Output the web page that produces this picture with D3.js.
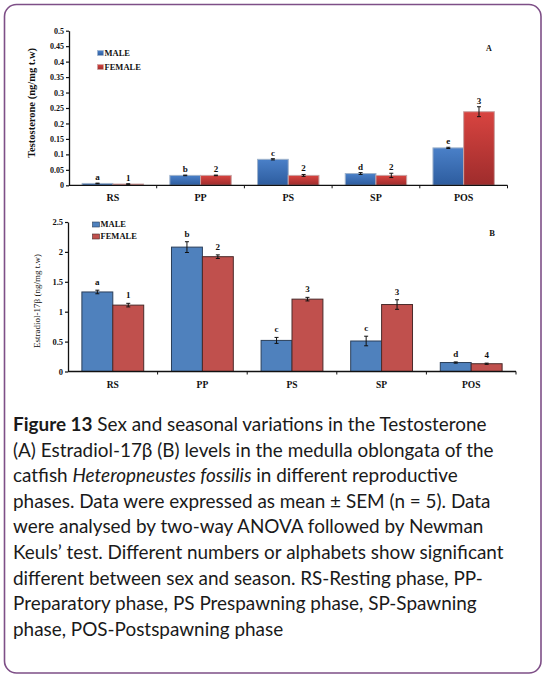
<!DOCTYPE html>
<html>
<head>
<meta charset="utf-8">
<script src="https://cdn.jsdelivr.net/npm/d3@7"></script>
<style>
  html, body { margin: 0; padding: 0; background: #fff; }
  svg { display: block; }
</style>
</head>
<body>
<svg id="chart" width="546" height="681"></svg>
<script>
// ---------- DATA ----------
const categories = ["RS", "PP", "PS", "SP", "POS"];
const seriesNames = ["MALE", "FEMALE"];

// Panel A: Testosterone (ng/mg t.w)
const testoMale      = [0.006, 0.032, 0.084, 0.038, 0.121];
const testoFemale    = [0.004, 0.032, 0.032, 0.032, 0.238];
const testoMaleErr   = [0.001, 0.001, 0.002, 0.003, 0.002];
const testoFemaleErr = [0.001, 0.001, 0.003, 0.007, 0.016];
const testoMaleSig   = ["a", "b", "c", "d", "e"];
const testoFemaleSig = ["1", "2", "2", "2", "3"];
const testoTicks     = [0, 0.05, 0.1, 0.15, 0.2, 0.25, 0.3, 0.35, 0.4, 0.45, 0.5];
const testoTickLabels = ["0", "0.05", "0.1", "0.15", "0.2", "0.25", "0.3", "0.35", "0.4", "0.45", "0.5"];

// Panel B: Estradiol-17β (ng/mg t.w)
const estraMale      = [1.33, 2.08, 0.52, 0.51, 0.15];
const estraFemale    = [1.11, 1.92, 1.21, 1.12, 0.13];
const estraMaleErr   = [0.03, 0.09, 0.05, 0.08, 0.01];
const estraFemaleErr = [0.03, 0.03, 0.03, 0.08, 0.01];
const estraMaleSig   = ["a", "b", "c", "c", "d"];
const estraFemaleSig = ["1", "2", "3", "3", "4"];
const estraTicks     = [0, 0.5, 1, 1.5, 2, 2.5];
const estraTickLabels = ["0", "0.5", "1", "1.5", "2", "2.5"];

const captionLines = [
  [["Figure 13", "b"], [" Sex and seasonal variations in the Testosterone", ""]],
  [["(A) Estradiol-17β (B) levels in the medulla oblongata of the", ""]],
  [["catfish ", ""], ["Heteropneustes fossilis", "i"], [" in different reproductive", ""]],
  [["phases. Data were expressed as mean ± SEM (n = 5). Data", ""]],
  [["were analysed by two-way ANOVA followed by Newman", ""]],
  [["Keuls’ test. Different numbers or alphabets show significant", ""]],
  [["different between sex and season. RS-Resting phase, PP-", ""]],
  [["Preparatory phase, PS Prespawning phase, SP-Spawning", ""]],
  [["phase, POS-Postspawning phase", ""]]
];

// ---------- DRAW ----------
const svg = d3.select("#chart");
const SERIF = "'Liberation Serif', 'Times New Roman', serif";

// frame
svg.append("rect")
  .attr("x", 4.5).attr("y", 4.5).attr("width", 536.5).attr("height", 668.5)
  .attr("rx", 12).attr("ry", 12)
  .attr("fill", "#fff").attr("stroke", "#7e4f87").attr("stroke-width", 1.6);

const defs = svg.append("defs");
function grad(id, top, bottom) {
  const g = defs.append("linearGradient").attr("id", id)
    .attr("x1", 0).attr("y1", 0).attr("x2", 0).attr("y2", 1);
  g.append("stop").attr("offset", "0%").attr("stop-color", top);
  g.append("stop").attr("offset", "100%").attr("stop-color", bottom);
}
grad("gMale", "#4a80c8", "#2d5c9e");
grad("gFemale", "#d84440", "#9e2c2c");

function panel(cfg) {
  const g = svg.append("g");
  const x0 = d3.scaleBand().domain(categories).range([cfg.left, cfg.right])
    .paddingInner(cfg.pad).paddingOuter(cfg.pad / 2);
  const x1 = d3.scaleBand().domain(seriesNames).range([0, x0.bandwidth()]);
  const y = d3.scaleLinear().domain([0, cfg.ticks[cfg.ticks.length - 1]]).range([cfg.bottom, cfg.top]);

  // bars
  const series = [
    { name: "MALE", vals: cfg.male, errs: cfg.maleErr, sig: cfg.maleSig, fill: cfg.maleFill, stroke: cfg.maleStroke },
    { name: "FEMALE", vals: cfg.female, errs: cfg.femaleErr, sig: cfg.femaleSig, fill: cfg.femaleFill, stroke: cfg.femaleStroke }
  ];
  series.forEach(s => {
    const recs = categories.map((c, i) => ({ c, v: s.vals[i], e: s.errs[i], t: s.sig[i] }));
    g.selectAll(null).data(recs).enter().append("rect")
      .attr("x", d => x0(d.c) + x1(s.name))
      .attr("y", d => y(d.v))
      .attr("width", x1.bandwidth())
      .attr("height", d => y(0) - y(d.v))
      .attr("fill", s.fill).attr("stroke", s.stroke).attr("stroke-width", 1);
    // error bars
    const eg = g.selectAll(null).data(recs).enter().append("g")
      .attr("stroke", "#111").attr("stroke-width", 1);
    const cx = d => x0(d.c) + x1(s.name) + x1.bandwidth() / 2;
    eg.append("line").attr("x1", cx).attr("x2", cx)
      .attr("y1", d => y(d.v + d.e)).attr("y2", d => y(d.v - d.e));
    eg.append("line").attr("x1", d => cx(d) - 2).attr("x2", d => cx(d) + 2)
      .attr("y1", d => y(d.v + d.e)).attr("y2", d => y(d.v + d.e));
    eg.append("line").attr("x1", d => cx(d) - 2).attr("x2", d => cx(d) + 2)
      .attr("y1", d => y(d.v - d.e)).attr("y2", d => y(d.v - d.e));
    // significance letters
    g.selectAll(null).data(recs).enter().append("text")
      .attr("x", cx)
      .attr("y", d => y(d.v + d.e) - cfg.sigGap)
      .attr("text-anchor", "middle")
      .attr("font-family", SERIF).attr("font-weight", "bold")
      .attr("font-size", cfg.sigSize).attr("fill", "#111")
      .text(d => d.t);
  });

  // y axis
  const ya = g.append("g").attr("transform", `translate(${cfg.left},0)`)
    .call(d3.axisLeft(y).tickValues(cfg.ticks).tickSize(3).tickSizeOuter(0)
      .tickFormat((d, i) => cfg.tickLabels[i]));
  ya.select(".domain").attr("stroke", "#111").attr("stroke-width", 1.3);
  ya.selectAll(".tick line").attr("stroke", "#111").attr("stroke-width", 1.2);
  ya.selectAll(".tick text").attr("font-family", SERIF).attr("font-weight", "bold")
    .attr("font-size", cfg.tickSize).attr("fill", "#111").attr("x", -5);

  // x axis: line + boundary ticks
  g.append("line").attr("x1", cfg.left).attr("x2", cfg.right)
    .attr("y1", cfg.bottom).attr("y2", cfg.bottom)
    .attr("stroke", "#111").attr("stroke-width", 1.3);
  const step = x0.step();
  const bounds = categories.map((c, i) => x0(c) - x0.paddingOuter() * step + step).concat([]);
  g.selectAll(null).data(categories).enter().append("line")
    .attr("x1", d => x0(d) - (x0.step() - x0.bandwidth()) / 2 + x0.step())
    .attr("x2", d => x0(d) - (x0.step() - x0.bandwidth()) / 2 + x0.step())
    .attr("y1", cfg.bottom).attr("y2", cfg.bottom + 3)
    .attr("stroke", "#111").attr("stroke-width", 1);
  g.selectAll(null).data(categories).enter().append("text")
    .attr("x", d => x0(d) + x0.bandwidth() / 2)
    .attr("y", cfg.bottom + cfg.catGap)
    .attr("text-anchor", "middle")
    .attr("font-family", SERIF).attr("font-weight", "bold")
    .attr("font-size", cfg.catSize).attr("fill", "#111")
    .text(d => d);

  // y label
  g.append("text")
    .attr("transform", `translate(${cfg.ylabX},${cfg.ylabY}) rotate(-90)`)
    .attr("text-anchor", "middle")
    .attr("font-family", SERIF).attr("font-weight", cfg.ylabWeight)
    .attr("font-size", cfg.ylabSize).attr("fill", "#111")
    .text(cfg.ylabel);

  // legend
  series.forEach((s, i) => {
    g.append("rect").attr("x", cfg.legX).attr("y", cfg.legY + i * cfg.legStep - cfg.legH)
      .attr("width", cfg.legW).attr("height", cfg.legH)
      .attr("fill", s.fill).attr("stroke", s.stroke).attr("stroke-width", 0.6);
    g.append("text").attr("x", cfg.legX + cfg.legW + 1).attr("y", cfg.legY + i * cfg.legStep)
      .attr("font-family", SERIF).attr("font-weight", "bold")
      .attr("font-size", cfg.legSize).attr("fill", "#111")
      .text(s.name);
  });

  // panel letter
  g.append("text").attr("x", cfg.tagX).attr("y", cfg.tagY)
    .attr("text-anchor", "middle")
    .attr("font-family", SERIF).attr("font-weight", "bold")
    .attr("font-size", cfg.tagSize).attr("fill", "#111")
    .text(cfg.tag);
}

panel({
  left: 69, right: 507.5, top: 30.7, bottom: 185.3, pad: 0.3,
  ticks: testoTicks, tickLabels: testoTickLabels, tickSize: 8,
  male: testoMale, female: testoFemale, maleErr: testoMaleErr, femaleErr: testoFemaleErr,
  maleSig: testoMaleSig, femaleSig: testoFemaleSig, sigGap: 3, sigSize: 9,
  maleFill: "url(#gMale)", femaleFill: "url(#gFemale)",
  maleStroke: "#9fb3cc", femaleStroke: "#c9a3a3",
  catGap: 15.5, catSize: 10,
  ylabel: "Testosterone  (ng/mg t.w)", ylabX: 35, ylabY: 103, ylabSize: 10.5, ylabWeight: "bold",
  legX: 97.5, legY: 55.5, legStep: 14, legW: 6, legH: 5, legSize: 8.5,
  tag: "A", tagX: 489, tagY: 51, tagSize: 8
});

panel({
  left: 68, right: 516, top: 222, bottom: 371.5, pad: 0.31,
  ticks: estraTicks, tickLabels: estraTickLabels, tickSize: 8.5,
  male: estraMale, female: estraFemale, maleErr: estraMaleErr, femaleErr: estraFemaleErr,
  maleSig: estraMaleSig, femaleSig: estraFemaleSig, sigGap: 5, sigSize: 9,
  maleFill: "#4f81bd", femaleFill: "#c0504d",
  maleStroke: "#2b3f5a", femaleStroke: "#4a2a2a",
  catGap: 16, catSize: 9.5,
  ylabel: "Estradiol-17β (ng/mg t.w)", ylabX: 40, ylabY: 301, ylabSize: 9, ylabWeight: "normal",
  legX: 92.5, legY: 227, legStep: 12, legW: 7, legH: 5, legSize: 8.5,
  tag: "B", tagX: 492, tagY: 235.5, tagSize: 8.5
});

// caption
const CAP = "Lato, 'Open Sans', sans-serif";
const cap = svg.append("g");
let fs = 17;
const lines = captionLines.map((parts, i) => {
  const t = cap.append("text").attr("x", 13).attr("y", 431 + i * 25.6)
    .attr("font-family", CAP).attr("font-size", fs).attr("fill", "#1a1a1a");
  parts.forEach(p => {
    t.append("tspan")
      .attr("font-weight", p[1] === "b" ? "bold" : "normal")
      .attr("font-style", p[1] === "i" ? "italic" : "normal")
      .text(p[0]);
  });
  return t;
});
// fit widest line (line 6) to its width in the reference
const w6 = lines[5].node().getComputedTextLength();
fs = fs * 491 / w6;
lines.forEach(t => t.attr("font-size", fs.toFixed(2)));
</script>
</body>
</html>
